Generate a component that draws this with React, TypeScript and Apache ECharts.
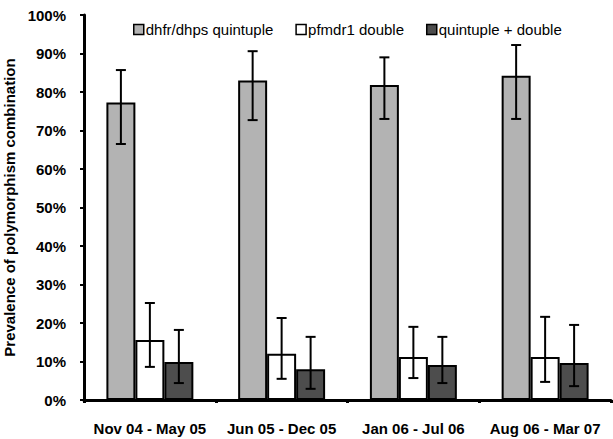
import React, { useEffect, useRef } from "react";
import * as echarts from "echarts";

const categories = ["Nov 04 - May 05", "Jun 05 - Dec 05", "Jan 06 - Jul 06", "Aug 06 - Mar 07"];
const seriesNames = ["dhfr/dhps quintuple", "pfmdr1 double", "quintuple + double"];

const quintuple = [77.3, 83.0, 81.8, 84.2];
const quintupleLow = [66.5, 72.7, 73.0, 73.0];
const quintupleHigh = [85.7, 90.6, 89.0, 92.2];

const pfmdr1 = [15.6, 12.0, 11.2, 11.2];
const pfmdr1Low = [8.6, 5.5, 5.7, 4.7];
const pfmdr1High = [25.2, 21.3, 19.0, 21.6];

const combined = [9.9, 8.0, 9.1, 9.6];
const combinedLow = [4.4, 2.9, 4.4, 3.6];
const combinedHigh = [18.2, 16.4, 16.4, 19.5];

const yTicks = [0, 10, 20, 30, 40, 50, 60, 70, 80, 90, 100];

const FONT = "Liberation Sans, Arial, sans-serif";
const CAT_GAP = 0.34;

export default function App() {
  const ref = useRef<HTMLDivElement>(null);
  useEffect(() => {
    if (!ref.current) return;
    const chart = echarts.init(ref.current, undefined, { renderer: "svg" });
    const colors = ["#b3b3b3", "#ffffff", "#4d4d4d"];
    const values = [quintuple, pfmdr1, combined];
    const lows = [quintupleLow, pfmdr1Low, combinedLow];
    const highs = [quintupleHigh, pfmdr1High, combinedHigh];

    const barSeries = seriesNames.map((name, k) => ({
      name,
      type: "bar",
      data: values[k],
      barGap: "0%",
      barCategoryGap: CAT_GAP * 100 + "%",
      itemStyle: { color: colors[k], borderColor: "#000", borderWidth: 2 },
    }));

    const errSeries = seriesNames.map((name, k) => ({
      name: name + " err",
      type: "custom",
      z: 10,
      data: categories.map((_, i) => [i, lows[k][i], highs[k][i]]),
      renderItem: (params: any, api: any) => {
        const idx = api.value(0);
        const cx = api.coord([idx, 0])[0];
        const band = api.size([1, 0])[0];
        const barW = (band * (1 - CAT_GAP)) / 3;
        const x = cx + (k - 1) * barW;
        const yLo = api.coord([idx, api.value(1)])[1];
        const yHi = api.coord([idx, api.value(2)])[1];
        const cap = 5;
        const st = { stroke: "#000", lineWidth: 2 };
        return {
          type: "group",
          children: [
            { type: "line", shape: { x1: x, y1: yLo, x2: x, y2: yHi }, style: st },
            { type: "line", shape: { x1: x - cap, y1: yLo, x2: x + cap, y2: yLo }, style: st },
            { type: "line", shape: { x1: x - cap, y1: yHi, x2: x + cap, y2: yHi }, style: st },
          ],
        };
      },
    }));

    chart.setOption({
      animation: false,
      grid: { left: 84, right: 2, top: 15, bottom: 39, containLabel: false, outerBoundsMode: "none" },
      legend: {
        data: seriesNames.map((n) => ({
          name: n,
          itemStyle: { borderWidth: 1.5, borderColor: "#000" },
        })),
        left: 128,
        top: 17,
        icon: "rect",
        itemWidth: 10,
        itemHeight: 10,
        itemGap: 22,
        textStyle: { fontSize: 15, color: "#000", fontFamily: FONT, padding: [0, 0, 0, -3] },
      },
      xAxis: {
        type: "category",
        data: categories,
        axisLine: { lineStyle: { color: "#000", width: 3 } },
        axisTick: { show: true, length: 3, lineStyle: { color: "#000", width: 3 } },
        axisLabel: {
          color: "#000",
          fontSize: 15,
          fontWeight: "bold",
          fontFamily: FONT,
          margin: 21,
          interval: 0,
        },
        splitLine: { show: false },
      },
      yAxis: {
        type: "value",
        min: yTicks[0],
        max: yTicks[yTicks.length - 1],
        interval: 10,
        name: "Prevalence of polymorphism combination",
        nameLocation: "middle",
        nameGap: 59,
        nameTextStyle: { color: "#000", fontSize: 15, fontWeight: "bold", fontFamily: FONT },
        axisLine: { show: true, lineStyle: { color: "#000", width: 3 } },
        axisTick: { show: true, length: 4, lineStyle: { color: "#000", width: 2 } },
        axisLabel: {
          color: "#000",
          fontSize: 15,
          fontWeight: "bold",
          fontFamily: FONT,
          margin: 18,
          formatter: (v: number) => v + "%",
        },
        splitLine: { show: false },
      },
      series: [...barSeries, ...errSeries],
    });
    return () => chart.dispose();
  }, []);
  return (
    <div
      ref={ref}
      style={{ position: "fixed", left: 0, top: 0, width: 613, height: 439, background: "#fff" }}
    />
  );
}
